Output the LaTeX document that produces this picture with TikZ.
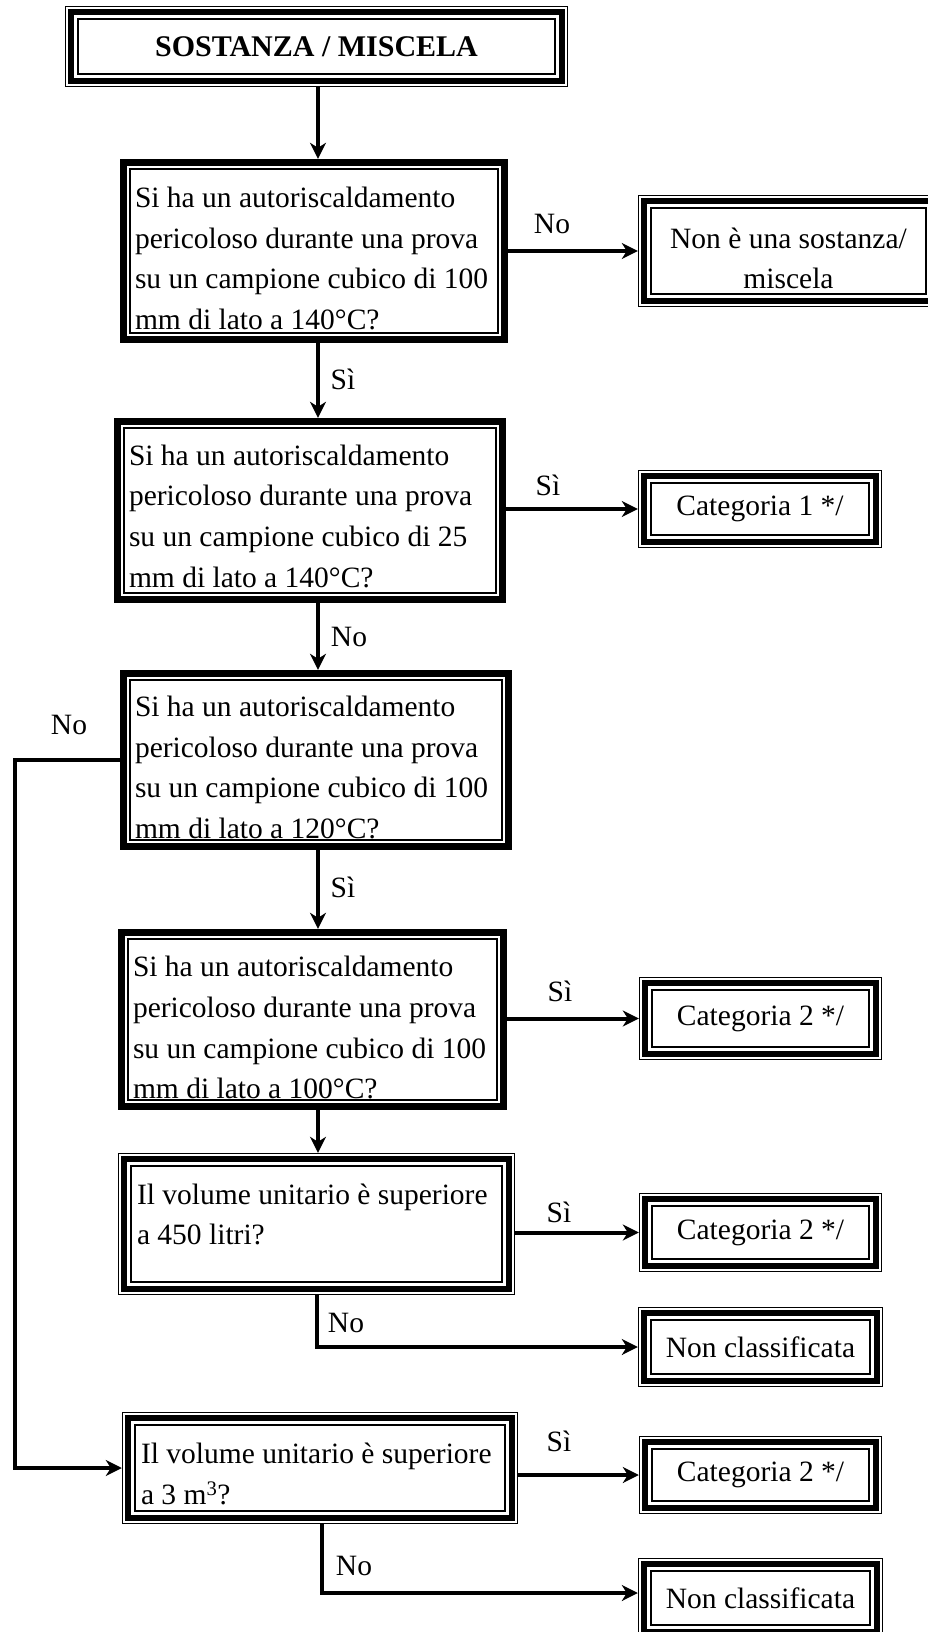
\documentclass[tikz,border=0pt]{standalone}
\usepackage{fontspec}
\setmainfont{Liberation Serif}
\usetikzlibrary{arrows.meta}
\newcommand{\mylefttxt}[3]{\raisebox{#1}[\height][\depth]{\parbox{#2}{\raggedright #3}}}
\newcommand{\mycentxt}[3]{\raisebox{#1}[\height][\depth]{\parbox{#2}{\centering #3}}}
\begin{document}
\begin{tikzpicture}[x=1pt,y=-1pt,
  txt/.style={font=\fontsize{29.5}{40.6}\selectfont},
  thickbox/.style={rectangle, draw=none, txt, inner xsep=15pt, inner ysep=0pt,
    path picture={
      \draw[line width=7pt] ([shift={(3.5pt,3.5pt)}]path picture bounding box.south west) rectangle ([shift={(-3.5pt,-3.5pt)}]path picture bounding box.north east);
      \draw[line width=1.5pt] ([shift={(10.2pt,10.2pt)}]path picture bounding box.south west) rectangle ([shift={(-10.2pt,-10.2pt)}]path picture bounding box.north east);
    }},
  tribox/.style={rectangle, draw=none, txt, inner sep=0pt,
    path picture={
      \draw[line width=1.2pt] ([shift={(0.6pt,0.6pt)}]path picture bounding box.south west) rectangle ([shift={(-0.6pt,-0.6pt)}]path picture bounding box.north east);
      \draw[line width=6pt] ([shift={(5.6pt,5.6pt)}]path picture bounding box.south west) rectangle ([shift={(-5.6pt,-5.6pt)}]path picture bounding box.north east);
      \draw[line width=1.6pt] ([shift={(12.9pt,12.9pt)}]path picture bounding box.south west) rectangle ([shift={(-12.9pt,-12.9pt)}]path picture bounding box.north east);
    }},
  trileft/.style={tribox, inner xsep=19pt},
  lbl/.style={txt, inner sep=0pt},
  arr/.style={line width=4pt, -{Stealth[length=16pt,width=16pt,inset=5pt]}}
]
\clip (0,0) rectangle (928,1632);
\fill[white] (0,0) rectangle (928,1632);

% nodes
\node[tribox, font=\fontsize{30}{36}\selectfont\bfseries, minimum width=503pt, minimum height=81pt] (title) at (316.5,46.5) {SOSTANZA / MISCELA};

\node[thickbox, minimum width=388pt, minimum height=184pt] (q1) at (314,251)
 {\mylefttxt{-7.3pt}{358pt}{Si ha un autoriscaldamento\\pericoloso durante una prova\\su un campione cubico di 100\\mm di lato a 140°C?}};
\node[tribox, minimum width=301pt, minimum height=112pt] (r1) at (788.5,251)
 {\mycentxt{-7.3pt}{280pt}{Non è una sostanza/\\miscela}};

\node[thickbox, minimum width=392pt, minimum height=185pt] (q2) at (310,510.5)
 {\mylefttxt{-5.7pt}{362pt}{Si ha un autoriscaldamento\\pericoloso durante una prova\\su un campione cubico di 25\\mm di lato a 140°C?}};
\node[tribox, minimum width=244pt, minimum height=78pt] (r2) at (760,509)
 {\raisebox{-5.2pt}{Categoria 1 */}};

\node[thickbox, minimum width=392pt, minimum height=180pt] (q3) at (316,760)
 {\mylefttxt{-7.3pt}{362pt}{Si ha un autoriscaldamento\\pericoloso durante una prova\\su un campione cubico di 100\\mm di lato a 120°C?}};

\node[thickbox, minimum width=389pt, minimum height=181pt] (q4) at (312.5,1019.5)
 {\mylefttxt{-8.3pt}{359pt}{Si ha un autoriscaldamento\\pericoloso durante una prova\\su un campione cubico di 100\\mm di lato a 100°C?}};
\node[tribox, minimum width=243pt, minimum height=83pt] (r4) at (760.5,1018.5)
 {\raisebox{-3pt}{Categoria 2 */}};

\node[trileft, minimum width=397pt, minimum height=142pt] (q5) at (316.5,1224)
 {\mylefttxt{9.4pt}{359pt}{Il volume unitario è superiore\\a 450 litri?}};
\node[tribox, minimum width=243pt, minimum height=79pt] (r5) at (760.5,1232.5)
 {\raisebox{-5pt}{Categoria 2 */}};
\node[tribox, minimum width=245pt, minimum height=80pt] (r5b) at (760.5,1347)
 {\raisebox{-4pt}{Non classificata}};

\node[trileft, minimum width=396pt, minimum height=112pt] (q6) at (320,1468)
 {\mylefttxt{-6.2pt}{358pt}{Il volume unitario è superiore\\a 3 m\textsuperscript{3}?}};
\node[tribox, minimum width=243pt, minimum height=78pt] (r6) at (760.5,1475)
 {\raisebox{-4pt}{Categoria 2 */}};
\node[tribox, minimum width=245pt, minimum height=80pt] (r6b) at (760.5,1598)
 {\raisebox{-3pt}{Non classificata}};

% helper coordinates
\coordinate (ax) at (318,0);
\coordinate (ax5) at (317,0);
\coordinate (ax6) at (322,0);
\coordinate (lp) at (15,0);

% connectors
\draw[arr] (title.south -| ax) -- (q1.north -| ax);
\draw[arr] (q1.east |- r1.west) -- (r1.west);
\draw[arr] (q1.south -| ax) -- (q2.north -| ax);
\draw[arr] (q2.east |- r2.west) -- (r2.west);
\draw[arr] (q2.south -| ax) -- (q3.north -| ax);
\draw[arr] (q3.west) -- (q3.west -| lp) -- (q6.west -| lp) -- (q6.west);
\draw[arr] (q3.south -| ax) -- (q4.north -| ax);
\draw[arr] (q4.east |- r4.west) -- (r4.west);
\draw[arr] (q4.south -| ax) -- (q5.north -| ax);
\draw[arr] (q5.east |- r5.west) -- (r5.west);
\draw[arr] (q5.south -| ax5) |- (r5b.west);
\draw[arr] (q6.east |- r6.west) -- (r6.west);
\draw[arr] (q6.south -| ax6) |- ([yshift=5pt]r6b.west);

% labels
\node[lbl] (l1) at (552,224) {No};
\node[lbl] (l2) at (343,379) {Sì};
\node[lbl] (l3) at (548,485) {Sì};
\node[lbl] (l4) at (349,637) {No};
\node[lbl] (l5) at (69,725) {No};
\node[lbl] (l6) at (343,887) {Sì};
\node[lbl] (l7) at (560,991) {Sì};
\node[lbl] (l8) at (559,1212) {Sì};
\node[lbl] (l9) at (346,1323) {No};
\node[lbl] (l10) at (559,1441) {Sì};
\node[lbl] (l11) at (354,1566) {No};
\end{tikzpicture}
\end{document}
